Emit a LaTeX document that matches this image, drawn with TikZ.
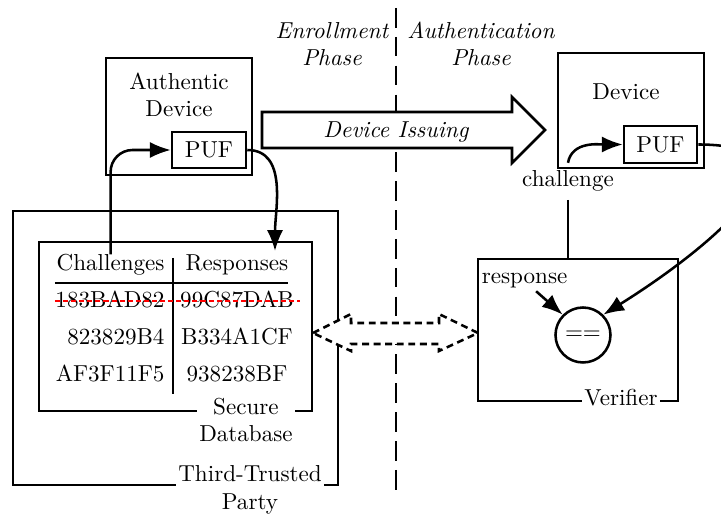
\documentclass[tikz,border=0pt]{standalone}
\usetikzlibrary{arrows.meta,calc}
\begin{document}
\begin{tikzpicture}[x=0.433pt,y=0.433pt,
  frame/.style={draw, line width=1.1pt, rectangle, inner sep=0pt},
  boxsize/.style 2 args={minimum width=#1*0.433pt, minimum height=#2*0.433pt},
  txt/.style={inner sep=0pt},
  lbl/.style={fill=white, inner xsep=1pt, inner ysep=0pt, align=center},
  wire/.style={line width=1.1pt},
  conn/.style={line width=1.1pt, -{Latex[length=9pt,width=7pt]}},
  phase/.style={font=\itshape, align=center},
  strike/.style={red, line width=0.8pt, dash pattern=on 2.2pt off 1.3pt}]
\useasboundingbox (0,0) rectangle (721,-515);

% phase separator
\coordinate (ptop) at (396,-8);
\coordinate (pbot) at (396,-492);
\draw[wire, dash pattern=on 8.5pt off 4pt] (ptop) -- (pbot);
\node[phase] (enr) at (332,-44) {Enrollment\\Phase};
\node[phase] (auth) at (481,-44) {Authentication\\Phase};

% device issuing arrow
\draw[wire, fill=white] (262,-112) -- (512,-112) -- (512,-97) -- (545,-130)
  -- (512,-163) -- (512,-148) -- (262,-148) -- cycle;
\node[phase, anchor=base] (issue) at (396,-138) {Device Issuing};

% enrollment side
\node[frame, boxsize={146}{117}] (authdev) at (179,-116.5) {};
\node[txt, align=center] (authlab) at (179,-95) {Authentic\\Device};
\node[frame, boxsize={74}{36}] (puf1) at (209,-150) {PUF};

\node[frame, boxsize={325}{274}] (ttp) at (175.5,-348) {};
\node[frame, boxsize={273}{169}] (db) at (175.5,-326.5) {};
\node[lbl] (dblab) at (246,-420) {Secure\\Database};
\node[lbl] (ttplab) at (250,-490) {Third-Trusted\\Party};

% challenge/response table
\node[txt, anchor=base east] (hch) at (165,-271) {Challenges};
\node[txt, anchor=base] (hrs) at (237,-271) {Responses};
\node[txt, anchor=base east] (c1) at (165,-308) {183BAD82};
\node[txt, anchor=base] (r1) at (237,-308) {99C87DAB};
\node[txt, anchor=base east] (c2) at (165,-345) {823829B4};
\node[txt, anchor=base] (r2) at (237,-345) {B334A1CF};
\node[txt, anchor=base east] (c3) at (165,-382) {AF3F11F5};
\node[txt, anchor=base] (r3) at (237,-382) {938238BF};
\coordinate (hl) at (55,-283);
\coordinate (hr) at (288,-283);
\coordinate (vt) at (173,-258);
\coordinate (vb) at (173,-394);
\draw[wire] (hl) -- (hr);
\draw[wire] (vt) -- (vb);
\coordinate (sl) at (55,-301);
\coordinate (sr) at (300,-301);
\draw[strike] (sl) -- (sr);

% secure channel between database and verifier
\draw[wire, fill=white, dash pattern=on 3pt off 2pt]
  (313,-333) -- (351,-314) -- (351,-323) -- (439,-323) -- (439,-314)
  -- (478,-333) -- (439,-351) -- (439,-344) -- (351,-344) -- (351,-351) -- cycle;

% authentication side
\node[frame, boxsize={146}{115}] (dev) at (631,-110.5) {};
\node[txt] (devlab) at (626,-92) {Device};
\node[frame, boxsize={73}{37}] (puf2) at (660.5,-144.5) {PUF};

\node[frame, boxsize={200}{142}] (ver) at (578,-330) {};
\node[lbl, inner ysep=0.5pt] (vlab) at (621,-398) {Verifier};
\node[draw, circle, line width=1.1pt, inner sep=0pt, minimum size=55*0.433pt] (eq) at (583,-335) {==};
\node[inner sep=1pt, anchor=base west] (rlab) at (479,-284) {response};
\node[anchor=base] (chal) at (568,-187) {challenge};

% connectors
\draw[conn, rounded corners=9.5pt] (hch.north) |- (puf1.west);
\coordinate (rin) at (275,-251);
\draw[conn] (puf1.east) to[out=0,in=90] (rin);
\draw[conn] (chal.north) to[out=80,in=180] (puf2.west);
\draw[wire] (chal.south) -- (chal.south |- ver.north);
\draw[conn] (puf2.east) to[out=0,in=32,looseness=1.75] (eq.45);
\draw[conn] (rlab) -- (eq.135);
\end{tikzpicture}
\end{document}
